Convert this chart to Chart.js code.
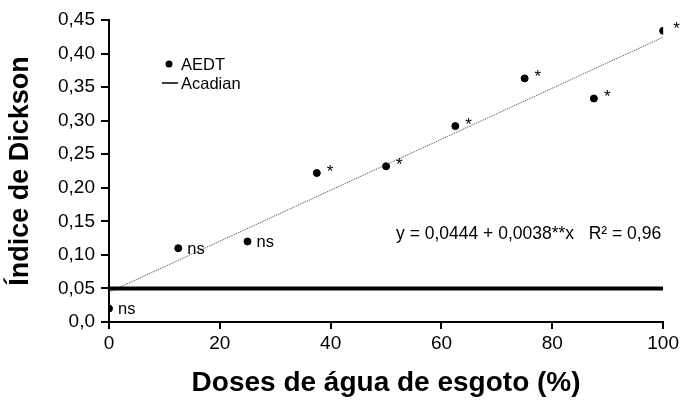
<!DOCTYPE html>
<html>
<head>
<meta charset="utf-8">
<script src="https://cdn.jsdelivr.net/npm/chart.js@4"></script>
<style>
  html, body { margin: 0; padding: 0; background: #fff; }
  #wrap { width: 682px; height: 401px; }
</style>
</head>
<body>
<div id="wrap"><canvas id="dickson" width="682" height="401"></canvas></div>
<script>
// doses (%) and Dickson index
var doses = [0, 12.5, 25, 37.5, 50, 62.5, 75, 87.5, 100];
var dickson = [0.02, 0.11, 0.12, 0.222, 0.232, 0.292, 0.363, 0.333, 0.434];
var signif = ['ns', 'ns', 'ns', '*', '*', '*', '*', '*', '*'];

// regression y = a + b*x and the Acadian reference value
var regA = 0.0444;
var regB = 0.0038;
var acadian = 0.05;
var equation = 'y = 0,0444 + 0,0038**x   R\u00b2 = 0,96';

var xTicks = [0, 20, 40, 60, 80, 100];
var yTicks = [0, 0.05, 0.10, 0.15, 0.20, 0.25, 0.30, 0.35, 0.40, 0.45];

var FONT = "'Liberation Sans', Arial, sans-serif";

var pts = doses.map(function (d, i) { return { x: d, y: dickson[i] }; });
var regLine = [{ x: 0, y: regA }, { x: 100, y: regA + regB * 100 }];
var acadLine = [{ x: 0, y: acadian }, { x: 100, y: acadian }];

// labels next to points, equation and the small legend in the corner
var extras = {
  id: 'extras',
  afterDatasetsDraw: function (chart) {
    var c = chart.ctx;
    var meta = chart.getDatasetMeta(2);
    c.save();
    c.fillStyle = '#000';
    c.strokeStyle = '#000';
    c.textBaseline = 'middle';
    c.textAlign = 'left';
    meta.data.forEach(function (el, i) {
      if (signif[i] === 'ns') {
        c.font = '16.5px ' + FONT;
        c.fillText(signif[i], el.x + 9, el.y + 1);
      } else {
        c.font = '17px ' + FONT;
        c.fillText(signif[i], el.x + 10, el.y - 1);
      }
    });

    c.font = '17.5px ' + FONT;
    c.textAlign = 'right';
    c.fillText(equation, chart.chartArea.right - 2, 234);

    // legend
    c.textAlign = 'left';
    c.font = '16.5px ' + FONT;
    c.beginPath();
    c.arc(169, 64, 3.5, 0, Math.PI * 2);
    c.fill();
    c.fillText('AEDT', 181, 65);
    c.lineWidth = 1.5;
    c.beginPath();
    c.moveTo(162, 83);
    c.lineTo(178, 83);
    c.stroke();
    c.fillText('Acadian', 181, 84);
    c.restore();
  }
};

var ctx = document.getElementById('dickson');
var dicksonChart = new Chart(ctx, {
  type: 'scatter',
  data: {
    datasets: [{
      type: 'line',
      label: 'Acadian',
      data: acadLine,
      borderColor: '#000',
      borderWidth: 4,
      pointRadius: 0,
      fill: false
    }, {
      type: 'line',
      label: 'Regress\u00e3o',
      data: regLine,
      borderColor: '#444',
      borderWidth: 1,
      borderDash: [1, 1],
      pointRadius: 0,
      fill: false
    }, {
      label: 'AEDT',
      data: pts,
      backgroundColor: '#000',
      borderColor: '#000',
      pointRadius: 3.5,
      pointHoverRadius: 3.5
    }]
  },
  options: {
    responsive: false,
    animation: false,
    layout: { padding: { top: 20, right: 15, left: 0, bottom: 0 } },
    plugins: {
      legend: { display: false },
      tooltip: { enabled: false }
    },
    scales: {
      x: {
        type: 'linear',
        min: 0,
        max: 100,
        afterBuildTicks: function (axis) {
          axis.ticks = xTicks.map(function (v) { return { value: v }; });
        },
        afterFit: function (axis) { axis.height = 79; },
        grid: { display: true, drawOnChartArea: false, drawTicks: true, tickLength: 7, color: '#000', lineWidth: 2 },
        border: { display: true, color: '#000', width: 2 },
        ticks: { color: '#000', font: { family: FONT, size: 19 }, padding: 3, maxRotation: 0 },
        title: {
          display: true,
          text: 'Doses de \u00e1gua de esgoto (%)',
          color: '#000',
          font: { family: FONT, size: 28, weight: 'bold' },
          padding: { top: 0, bottom: 1 }
        }
      },
      y: {
        type: 'linear',
        min: 0,
        max: 0.45,
        afterBuildTicks: function (axis) {
          axis.ticks = yTicks.map(function (v) { return { value: v }; });
        },
        afterFit: function (axis) { axis.width = 109; },
        grid: { display: true, drawOnChartArea: false, drawTicks: true, tickLength: 8, color: '#000', lineWidth: 2 },
        border: { display: true, color: '#000', width: 2 },
        ticks: {
          color: '#000',
          font: { family: FONT, size: 19 },
          padding: 6,
          callback: function (v) {
            return v === 0 ? '0,0' : v.toFixed(2).replace('.', ',');
          }
        },
        title: {
          display: true,
          text: '\u00cdndice de Dickson',
          color: '#000',
          font: { family: FONT, size: 27, weight: 'bold' },
          padding: { top: 4, bottom: 0 }
        }
      }
    }
  },
  plugins: [extras]
});
</script>
</body>
</html>
